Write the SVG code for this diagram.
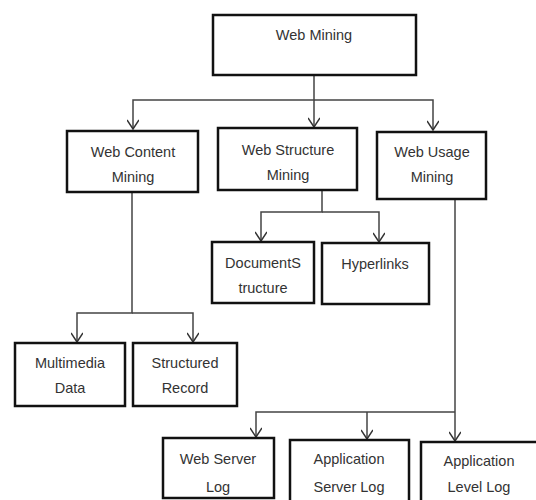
<svg xmlns="http://www.w3.org/2000/svg" width="536" height="500" viewBox="0 0 536 500">
<style>
.box{fill:#fff;stroke:#111;stroke-width:2.5}
.lbl{font-family:"Liberation Sans",Arial,sans-serif;font-size:14.5px;fill:#333;text-anchor:middle}
.con{fill:none;stroke:#444;stroke-width:1.5}
</style>
<defs>
<marker id="arr" viewBox="0 0 12 12" refX="11" refY="6" markerWidth="12" markerHeight="12" markerUnits="userSpaceOnUse" orient="auto">
<path d="M2,0 L11,6 L2,12" fill="none" stroke="#333" stroke-width="1.5"/>
</marker>
</defs>
<rect width="536" height="500" fill="#fff"/>
<g id="connectors">
<path class="con" d="M314,75 V100 H133 V129" marker-end="url(#arr)"/>
<path class="con" d="M314,100 H433 V130" marker-end="url(#arr)"/>
<path class="con" d="M314,100 V127" marker-end="url(#arr)"/>
<path class="con" d="M322,190 V212 H261 V241" marker-end="url(#arr)"/>
<path class="con" d="M322,212 H379 V242" marker-end="url(#arr)"/>
<path class="con" d="M132,192 V313 H77 V342" marker-end="url(#arr)"/>
<path class="con" d="M132,313 H193 V342" marker-end="url(#arr)"/>
<path class="con" d="M455,199 V441" marker-end="url(#arr)"/>
<path class="con" d="M455,412 H256 V437" marker-end="url(#arr)"/>
<path class="con" d="M367,412 V439" marker-end="url(#arr)"/>
</g>
<g id="web-mining"><rect class="box" x="213" y="15" width="203" height="60"/><text class="lbl" x="314" y="40">Web Mining</text></g>
<g id="web-content-mining"><rect class="box" x="67" y="131" width="131" height="61"/><text class="lbl" x="133" y="157">Web Content</text><text class="lbl" x="133" y="182">Mining</text></g>
<g id="web-structure-mining"><rect class="box" x="218" y="128" width="139" height="62"/><text class="lbl" x="288" y="155">Web Structure</text><text class="lbl" x="288" y="180">Mining</text></g>
<g id="web-usage-mining"><rect class="box" x="377" y="132" width="109" height="67"/><text class="lbl" x="432" y="157">Web Usage</text><text class="lbl" x="432" y="182">Mining</text></g>
<g id="document-structure"><rect class="box" x="212" y="242" width="102" height="61"/><text class="lbl" x="263" y="268">DocumentS</text><text class="lbl" x="263" y="293">tructure</text></g>
<g id="hyperlinks"><rect class="box" x="322" y="243" width="107" height="61"/><text class="lbl" x="375" y="269">Hyperlinks</text></g>
<g id="multimedia-data"><rect class="box" x="15" y="343" width="110" height="63"/><text class="lbl" x="70" y="368">Multimedia</text><text class="lbl" x="70" y="393">Data</text></g>
<g id="structured-record"><rect class="box" x="133" y="343" width="104" height="63"/><text class="lbl" x="185" y="368">Structured</text><text class="lbl" x="185" y="393">Record</text></g>
<g id="web-server-log"><rect class="box" x="163" y="438" width="111" height="60"/><text class="lbl" x="218" y="464">Web Server</text><text class="lbl" x="218" y="492">Log</text></g>
<g id="application-server-log"><rect class="box" x="290" y="440" width="119" height="62"/><text class="lbl" x="349" y="464">Application</text><text class="lbl" x="349" y="492">Server Log</text></g>
<g id="application-level-log"><rect class="box" x="421" y="442" width="118" height="62"/><text class="lbl" x="479" y="466">Application</text><text class="lbl" x="479" y="492">Level Log</text></g>
</svg>
